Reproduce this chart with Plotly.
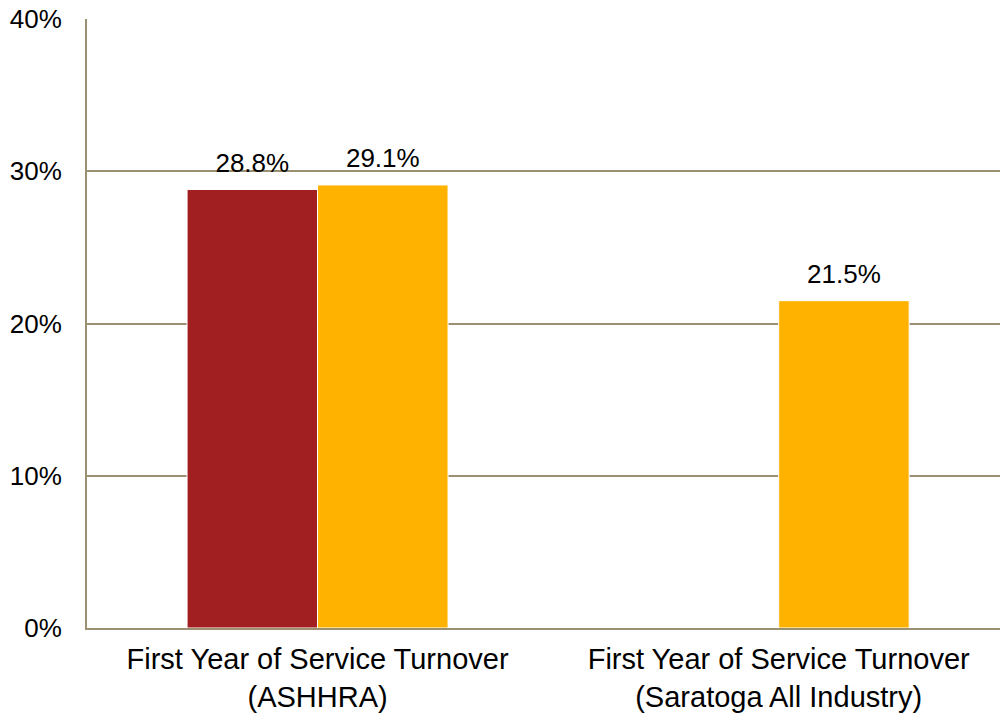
import plotly.graph_objects as go

categories = ["First Year of Service Turnover<br>(ASHHRA)",
              "First Year of Service Turnover<br>(Saratoga All Industry)"]
series_red = [28.8, None]
series_yellow = [29.1, 21.5]
y_ticks = [0, 10, 20, 30, 40]
y_tick_labels = ["0%", "10%", "20%", "30%", "40%"]

FONT = "Liberation Sans, Arial, sans-serif"
GRID = "#9B9172"

def labels(vals):
    return [None if v is None else f"{v:.1f}%" for v in vals]

fig = go.Figure()
for name, vals, color in [("ASHHRA", series_red, "#A21F21"),
                          ("Saratoga", series_yellow, "#FFB300")]:
    fig.add_trace(go.Bar(
        x=categories, y=vals, name=name,
        marker=dict(color=color, line=dict(color="white", width=1)),
        offsetgroup=name, alignmentgroup="a",
    ))
for name, vals in [("ASHHRA", series_red), ("Saratoga", series_yellow)]:
    fig.add_trace(go.Scatter(
        x=categories, y=vals, mode="markers+text",
        text=labels(vals), textposition="top center",
        textfont=dict(family=FONT, size=26, color="black"),
        marker=dict(size=16, opacity=0),
        offsetgroup=name, alignmentgroup="a",
        cliponaxis=False, hoverinfo="skip",
    ))

fig.update_layout(
    width=1000, height=715,
    margin=dict(l=87, r=0, t=19, b=87),
    paper_bgcolor="white", plot_bgcolor="white",
    barmode="group", bargap=0.434, bargroupgap=0,
    scattermode="group", scattergap=0.434,
    showlegend=False,
    font=dict(family=FONT, color="black"),
)
fig.update_xaxes(
    type="category", range=[-0.5, 1.48],
    showline=True, linecolor=GRID, linewidth=2,
    showgrid=False, ticks="",
    tickfont=dict(family=FONT, size=29, color="black"),
    ticklabelstandoff=4, automargin=False,
)
fig.update_yaxes(
    range=[0, 40], tickvals=y_ticks, ticktext=y_tick_labels,
    showline=True, linecolor=GRID, linewidth=2,
    showgrid=True, gridcolor=GRID, gridwidth=2,
    zeroline=False, ticks="",
    tickfont=dict(family=FONT, size=26, color="black"),
    ticklabelstandoff=18, automargin=False,
)

fig.write_html("out.html")
